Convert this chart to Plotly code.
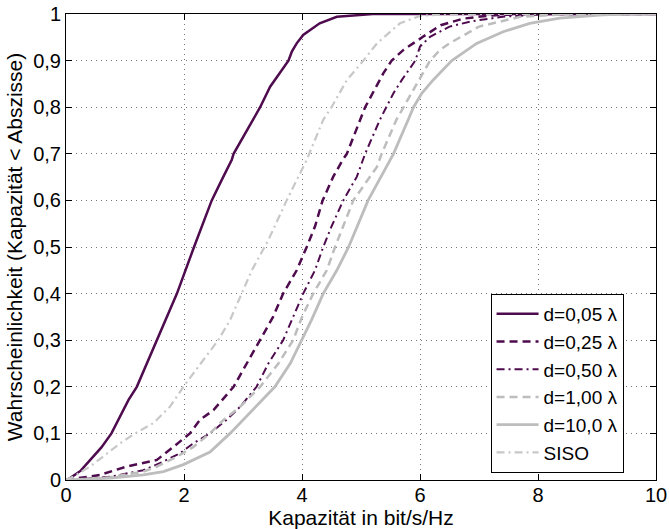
import plotly.graph_objects as go

# Empirical CDFs of channel capacity for different antenna spacings d (in wavelengths)
cap_d005 = [0, 0.07, 0.25, 0.41, 0.6, 0.77, 1.06, 1.2, 1.54, 1.88, 2.17, 2.47, 2.64, 2.81,
            2.84, 3.29, 3.46, 3.77, 3.83, 3.91, 4.02, 4.3, 4.59, 4.93, 5.2, 10]
p_d005 = [0, 0.004, 0.02, 0.043, 0.07, 0.1, 0.172, 0.2, 0.3, 0.4, 0.5, 0.6, 0.644, 0.687,
          0.7, 0.8, 0.844, 0.9, 0.92, 0.937, 0.955, 0.98, 0.994, 0.997, 1.0, 1.0]

cap_d025 = [0, 0.24, 0.58, 1.03, 1.54, 1.82, 2.1, 2.27, 2.5, 2.84, 3.06, 3.29, 3.51, 3.68,
            3.91, 4.08, 4.22, 4.35, 4.53, 4.69, 4.76, 5.07, 5.38, 5.52, 5.72, 6.05, 6.35,
            6.73, 7.2, 7.8, 10]
p_d025 = [0, 0.004, 0.011, 0.029, 0.043, 0.071, 0.1, 0.129, 0.15, 0.2, 0.25, 0.3, 0.35, 0.4,
          0.45, 0.5, 0.544, 0.6, 0.651, 0.687, 0.7, 0.8, 0.873, 0.9, 0.923, 0.951, 0.976,
          0.99, 0.997, 1.0, 1.0]

cap_d050 = [0, 0.3, 0.75, 1.31, 1.59, 1.93, 2.16, 2.44, 2.72, 2.95, 3.23, 3.43, 3.68, 3.83,
            4.02, 4.22, 4.36, 4.5, 4.7, 4.93, 5.03, 5.07, 5.32, 5.43, 5.55, 5.69, 5.92, 6.0,
            6.17, 6.5, 6.9, 7.4, 8.0, 8.5, 10]
p_d050 = [0, 0.002, 0.007, 0.021, 0.036, 0.057, 0.079, 0.1, 0.129, 0.157, 0.2, 0.25, 0.3,
          0.343, 0.4, 0.45, 0.5, 0.544, 0.6, 0.651, 0.687, 0.7, 0.773, 0.8, 0.83, 0.858, 0.9,
          0.93, 0.951, 0.973, 0.985, 0.994, 0.999, 1.0, 1.0]

cap_d100 = [0, 0.4, 0.75, 1.31, 1.54, 1.88, 2.16, 2.44, 2.67, 2.95, 3.29, 3.6, 3.85, 4.0,
            4.19, 4.42, 4.56, 4.7, 4.87, 5.27, 5.35, 5.6, 5.72, 5.97, 6.17, 6.34, 6.5, 7.0,
            7.7, 8.5, 10]
p_d100 = [0, 0.002, 0.006, 0.018, 0.029, 0.05, 0.071, 0.1, 0.129, 0.157, 0.2, 0.25, 0.3,
          0.35, 0.4, 0.45, 0.5, 0.544, 0.6, 0.672, 0.7, 0.773, 0.8, 0.858, 0.9, 0.923, 0.937,
          0.973, 0.994, 1.0, 1.0]

cap_d10 = [0, 0.75, 1.31, 1.65, 1.99, 2.44, 2.78, 3.0, 3.23, 3.54, 3.8, 4.0, 4.16, 4.36,
           4.59, 4.79, 4.93, 5.12, 5.43, 5.55, 5.8, 5.89, 6.03, 6.22, 6.54, 6.96, 7.41, 7.86,
           8.37, 9.1, 9.5, 10]
p_d10 = [0, 0.004, 0.011, 0.018, 0.033, 0.06, 0.1, 0.129, 0.157, 0.2, 0.25, 0.3, 0.343, 0.4,
         0.45, 0.5, 0.544, 0.6, 0.672, 0.7, 0.773, 0.8, 0.83, 0.858, 0.9, 0.937, 0.962, 0.98,
         0.991, 0.998, 1.0, 1.0]

cap_siso = [0, 0.12, 0.41, 0.63, 0.92, 1.17, 1.48, 1.76, 1.99, 2.33, 2.58, 2.78, 2.98, 3.15,
            3.43, 3.74, 4.08, 4.36, 4.5, 4.76, 5.04, 5.27, 5.66, 6.0, 6.5, 10]
p_siso = [0, 0.007, 0.029, 0.05, 0.079, 0.1, 0.122, 0.157, 0.2, 0.258, 0.3, 0.343, 0.4, 0.45,
          0.515, 0.6, 0.687, 0.773, 0.8, 0.858, 0.9, 0.937, 0.98, 0.996, 1.0, 1.0]

x_ticks = [0, 2, 4, 6, 8, 10]
y_ticks = [0, 0.1, 0.2, 0.3, 0.4, 0.5, 0.6, 0.7, 0.8, 0.9, 1.0]
y_tick_labels = ["0", "0,1", "0,2", "0,3", "0,4", "0,5", "0,6", "0,7", "0,8", "0,9", "1"]

DARK = "#4e0b4e"
GRAY = "#bdbdbd"
LIGHT = "#c8c8c8"
DASH = "8px,5px"
DASHDOT = "8px,4px,2px,4px"

series = [
    ("d=0,05 λ", cap_d005, p_d005, DARK, "solid", 2.5),
    ("d=0,25 λ", cap_d025, p_d025, DARK, DASH, 2.5),
    ("d=0,50 λ", cap_d050, p_d050, DARK, DASHDOT, 2.0),
    ("d=1,00 λ", cap_d100, p_d100, GRAY, DASH, 2.5),
    ("d=10,0 λ", cap_d10, p_d10, GRAY, "solid", 2.8),
    ("SISO", cap_siso, p_siso, LIGHT, DASHDOT, 2.2),
]

fig = go.Figure()
for name, xs, ys, color, dash, width in series:
    fig.add_trace(go.Scatter(x=xs, y=ys, mode="lines", name=name,
                             line=dict(color=color, dash=dash, width=width)))

FONT = "Liberation Sans, Arial, Helvetica, sans-serif"
FS = 20
TITLE_FS = 21
axis_common = dict(
    showline=True, linecolor="black", linewidth=1, mirror="allticks",
    ticks="inside", ticklen=6, tickcolor="black", tickwidth=1,
    showgrid=True, gridcolor="#777777", gridwidth=1, griddash="1px,4px",
    zeroline=False, automargin=False,
    tickfont=dict(family=FONT, size=FS, color="black"),
)

fig.update_xaxes(range=[0, 10], tickvals=x_ticks, ticklabelstandoff=-3,
                 title=dict(text="Kapazität in bit/s/Hz", font=dict(family=FONT, size=TITLE_FS, color="black"), standoff=0),
                 **axis_common)
fig.update_yaxes(range=[0, 1], tickvals=y_ticks, ticktext=y_tick_labels,
                 title=dict(text="Wahrscheinlichkeit (Kapazität < Abszisse)", font=dict(family=FONT, size=TITLE_FS, color="black"), standoff=4),
                 **axis_common)

fig.update_layout(
    width=669, height=529,
    margin=dict(l=66, r=13, t=14, b=49),
    plot_bgcolor="white", paper_bgcolor="white",
    font=dict(family=FONT, size=FS, color="black"),
    legend=dict(x=0.945, y=0.015, xanchor="right", yanchor="bottom",
                bgcolor="white", bordercolor="black", borderwidth=1,
                font=dict(family=FONT, size=19, color="black"),
                itemwidth=42, tracegroupgap=0),
    showlegend=True,
)

fig.write_html("out.html")
